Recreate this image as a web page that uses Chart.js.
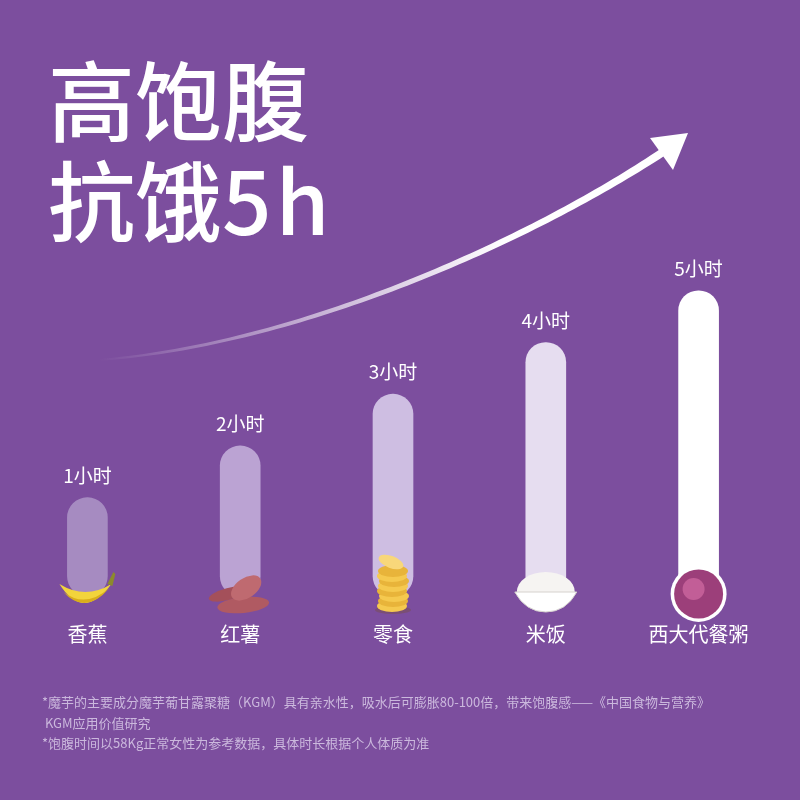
<!DOCTYPE html>
<html>
<head>
<meta charset="utf-8">
<script src="https://cdn.jsdelivr.net/npm/chart.js@4.4.1/dist/chart.umd.min.js"></script>
<style>
  html, body { margin: 0; padding: 0; }
  body { width: 800px; height: 800px; background: #7c4e9e; position: relative; overflow: hidden;
         font-family: "Noto Sans CJK SC", "Noto Sans", sans-serif; }
  #wrap { position: absolute; left: 0; top: 0; width: 800px; height: 800px; }
  .title { position: absolute; left: 48px; top: 47px; color: #fff; font-size: 87px; line-height: 100px; font-weight: 500; }
  .title span { letter-spacing: 4px; }
  .note { position: absolute; left: 42px; top: 692px; color: #cbb8dd; font-size: 13px; line-height: 20.5px; }
</style>
</head>
<body>
<div id="wrap"><canvas id="satietyChart" width="800" height="800"></canvas></div>
<div class="title">高饱腹<br>抗饿<span>5h</span></div>
<div class="note">*魔芋的主要成分魔芋葡甘露聚糖（KGM）具有亲水性，吸水后可膨胀80-100倍，带来饱腹感——《中国食物与营养》<br>&nbsp;KGM应用价值研究<br>*饱腹时间以58Kg正常女性为参考数据，具体时长根据个人体质为准</div>

<script>
document.addEventListener("DOMContentLoaded", function() {

    // data
    const foods = ['香蕉', '红薯', '零食', '米饭', '西大代餐粥'];
    const hours = [1, 2, 3, 4, 5];
    const hourLabels = ['1小时', '2小时', '3小时', '4小时', '5小时'];
    const barColors = ['#a68bc1', '#bba3d3', '#cebee2', '#e6ddf0', '#ffffff'];
    const BASE = -0.9;

    // labels, food icons and the rising arrow
    const decorPlugin = {
        id: 'decor',
        afterDatasetsDraw(chart) {
            const ctx = chart.ctx;
            const bars = chart.getDatasetMeta(0).data;
            const yBase = chart.scales.y.getPixelForValue(BASE);

            ctx.save();
            ctx.textAlign = 'center';
            ctx.textBaseline = 'middle';
            bars.forEach(function(bar, i) {
                ctx.fillStyle = '#ffffff';
                ctx.font = '19px "Noto Sans CJK SC"';
                ctx.fillText(hourLabels[i], bar.x, bar.y - 22);
                ctx.font = '20px "Noto Sans CJK SC"';
                ctx.fillText(foods[i], bar.x, yBase + 38);
                drawFood(ctx, i, bar.x, yBase);
            });
            ctx.restore();

            drawArrow(ctx);
        }
    };

    function drawFood(ctx, i, x, y) {
        ctx.save();
        if (i === 0) {
            // banana
            ctx.fillStyle = '#f2d43c';
            ctx.beginPath();
            ctx.moveTo(x - 28, y - 12);
            ctx.quadraticCurveTo(x - 4, y + 26, x + 24, y - 12);
            ctx.quadraticCurveTo(x - 2, y + 4, x - 28, y - 12);
            ctx.fill();
            ctx.fillStyle = '#d9ae1c';
            ctx.beginPath();
            ctx.moveTo(x - 24, y - 4);
            ctx.quadraticCurveTo(x - 2, y + 20, x + 22, y - 8);
            ctx.quadraticCurveTo(x - 2, y + 13, x - 24, y - 4);
            ctx.fill();
            ctx.fillStyle = '#8c8a2c';
            ctx.beginPath();
            ctx.moveTo(x + 20, y - 12);
            ctx.lineTo(x + 26, y - 24);
            ctx.lineTo(x + 28, y - 22);
            ctx.lineTo(x + 25, y - 10);
            ctx.fill();
        } else if (i === 1) {
            // sweet potatoes
            ctx.fillStyle = '#a4505a';
            ctx.beginPath();
            ctx.ellipse(x - 12, y - 2, 20, 6, -0.25, 0, Math.PI * 2);
            ctx.fill();
            ctx.fillStyle = '#b05a62';
            ctx.beginPath();
            ctx.ellipse(x + 3, y + 9, 26, 8, -0.1, 0, Math.PI * 2);
            ctx.fill();
            ctx.fillStyle = '#bf6a70';
            ctx.beginPath();
            ctx.ellipse(x + 6, y - 8, 17, 10, -0.6, 0, Math.PI * 2);
            ctx.fill();
        } else if (i === 2) {
            // chips
            ctx.fillStyle = 'rgba(120,80,40,0.35)';
            ctx.beginPath();
            ctx.ellipse(x, y + 14, 18, 4, 0, 0, Math.PI * 2);
            ctx.fill();
            for (let k = 0; k < 8; k++) {
                ctx.fillStyle = k % 2 ? '#e8b43a' : '#f5c94f';
                ctx.beginPath();
                ctx.ellipse(x + (k % 3 - 1), y + 10 - k * 5, 15, 6, 0, 0, Math.PI * 2);
                ctx.fill();
            }
            ctx.fillStyle = '#f8d77a';
            ctx.beginPath();
            ctx.ellipse(x - 2, y - 34, 13, 6, 0.35, 0, Math.PI * 2);
            ctx.fill();
        } else if (i === 3) {
            // rice bowl
            ctx.fillStyle = '#f6f4f2';
            ctx.beginPath();
            ctx.ellipse(x, y - 4, 29, 20, 0, Math.PI, Math.PI * 2);
            ctx.fill();
            ctx.fillStyle = '#ffffff';
            ctx.beginPath();
            ctx.moveTo(x - 31, y - 4);
            ctx.quadraticCurveTo(x - 20, y + 16, x, y + 16);
            ctx.quadraticCurveTo(x + 20, y + 16, x + 31, y - 4);
            ctx.closePath();
            ctx.fill();
            ctx.strokeStyle = '#d6d2ce';
            ctx.lineWidth = 1;
            ctx.stroke();
        } else {
            // porridge bowl seen from above
            ctx.fillStyle = '#ffffff';
            ctx.beginPath();
            ctx.arc(x, y - 2, 28, 0, Math.PI * 2);
            ctx.fill();
            ctx.fillStyle = '#9c3f7a';
            ctx.beginPath();
            ctx.arc(x, y - 2, 24.5, 0, Math.PI * 2);
            ctx.fill();
            ctx.fillStyle = 'rgba(225,120,175,0.55)';
            ctx.beginPath();
            ctx.arc(x - 5, y - 7, 11, 0, Math.PI * 2);
            ctx.fill();
        }
        ctx.restore();
    }

    function drawArrow(ctx) {
        const p0 = [98, 360], p1 = [300, 345], p2 = [530, 240], p3 = [663, 152];
        const pt = function(t) {
            const a = (1 - t) * (1 - t) * (1 - t), b = 3 * (1 - t) * (1 - t) * t, c = 3 * (1 - t) * t * t, d = t * t * t;
            return [a * p0[0] + b * p1[0] + c * p2[0] + d * p3[0], a * p0[1] + b * p1[1] + c * p2[1] + d * p3[1]];
        };
        const n = 80, left = [], right = [];
        for (let k = 0; k <= n; k++) {
            const t = k / n;
            const q = pt(t), q2 = pt(Math.min(1, t + 0.001)), q1 = pt(Math.max(0, t - 0.001));
            let dx = q2[0] - q1[0], dy = q2[1] - q1[1];
            const len = Math.hypot(dx, dy);
            dx /= len; dy /= len;
            const w = (2 + 6 * t) / 2;
            left.push([q[0] - dy * w, q[1] + dx * w]);
            right.push([q[0] + dy * w, q[1] - dx * w]);
        }
        const grad = ctx.createLinearGradient(p0[0], p0[1], p3[0], p3[1]);
        grad.addColorStop(0, 'rgba(255,255,255,0)');
        grad.addColorStop(0.35, 'rgba(255,255,255,0.55)');
        grad.addColorStop(0.7, 'rgba(255,255,255,1)');
        grad.addColorStop(1, 'rgba(255,255,255,1)');
        ctx.save();
        ctx.fillStyle = grad;
        ctx.beginPath();
        ctx.moveTo(left[0][0], left[0][1]);
        left.forEach(function(p) { ctx.lineTo(p[0], p[1]); });
        for (let k = right.length - 1; k >= 0; k--) ctx.lineTo(right[k][0], right[k][1]);
        ctx.closePath();
        ctx.fill();
        ctx.fillStyle = '#ffffff';
        ctx.beginPath();
        ctx.moveTo(688, 133);
        ctx.lineTo(650, 138);
        ctx.lineTo(673, 170);
        ctx.closePath();
        ctx.fill();
        ctx.restore();
    }

    const ctx = document.getElementById('satietyChart').getContext('2d');
    const satietyChart = new Chart(ctx, {
        type: 'bar',
        data: {
            labels: foods,
            datasets: [{
                data: hours.map(function(h) { return [BASE, h]; }),
                backgroundColor: barColors,
                borderRadius: 20,
                borderSkipped: false,
                barThickness: 40
            }]
        },
        options: {
            responsive: false,
            animation: false,
            devicePixelRatio: 1,
            layout: {
                padding: { left: 11, right: 25, top: 32, bottom: 204 }
            },
            scales: {
                x: { display: false, offset: true, grid: { display: false } },
                y: { display: false, min: BASE, max: 10, grid: { display: false } }
            },
            plugins: {
                legend: { display: false },
                tooltip: { enabled: false }
            }
        },
        plugins: [decorPlugin]
    });

});
</script>
</body>
</html>
